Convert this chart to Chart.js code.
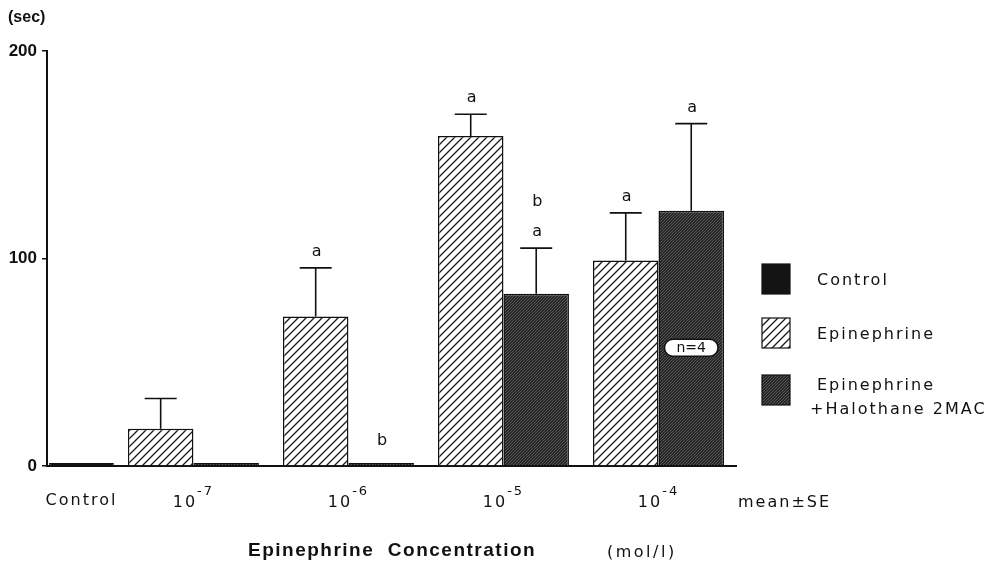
<!DOCTYPE html>
<html><head><meta charset="utf-8">
<script src="https://cdn.jsdelivr.net/npm/chart.js@4"></script>
<style>html,body{margin:0;padding:0;background:#fff;overflow:hidden}canvas{display:block}</style>
</head><body>
<canvas id="c" width="993" height="571"></canvas>
<script>
// ---- data ----
const controlCategory = ['Control'];
const concentrations = ['10⁻⁷', '10⁻⁶', '10⁻⁵', '10⁻⁴'];
const controlMean = [1.5];
const controlSE = [0];
const epinephrineMean = [18, 72, 159, 99];
const epinephrineSE = [14.5, 23.5, 10.5, 23];
const halothaneMean = [1.5, 1.5, 83, 123];
const halothaneSE = [0, 0, 22, 42];
const controlSig = [[]];
const epinephrineSig = [[], ['a'], ['a'], ['a']];
const halothaneSig = [[], ['b'], ['a', 'b'], ['a']];
const yTickValues = [0, 100, 200];
const seriesNames = ['Control', 'Epinephrine', 'Epinephrine +Halothane 2MAC'];
const sampleNote = { text: 'n=4', series: 2, index: 3, value: 57 };

// ---- styles ----
const SANS = '"DejaVu Sans", Verdana, sans-serif';
const HELV = '"Liberation Sans", Arial, sans-serif';
function hatch(bg, fg, s, lw) {
  const c = document.createElement('canvas');
  c.width = s; c.height = s;
  const g = c.getContext('2d');
  g.fillStyle = bg; g.fillRect(0, 0, s, s);
  g.strokeStyle = fg; g.lineWidth = lw;
  g.beginPath();
  g.moveTo(-1, s + 1); g.lineTo(s + 1, -1);
  g.moveTo(-1, 1); g.lineTo(1, -1);
  g.moveTo(s - 1, s + 1); g.lineTo(s + 1, s - 1);
  g.stroke();
  return g.createPattern(c, 'repeat');
}
const epiFill = hatch('#ffffff', '#1a1a1a', 8, 1.3);
const haloFill = hatch('#262626', '#6e6e6e', 3, 0.7);
const ctrlFill = '#141414';

// Chart.js >= 4.5 splits a category between bar datasets on different index axes;
// compensate so each concentration pair fills the same share of its category.
const indexAxisShare = typeof Chart.BarController.prototype._getAxisCount === 'function' ? 2 : 1;
const pairPercentage = 0.845 * indexAxisShare;

const SUP = { '⁻': '-', '⁰': '0', '¹': '1', '²': '2', '³': '3', '⁴': '4', '⁵': '5', '⁶': '6', '⁷': '7', '⁸': '8', '⁹': '9' };
function splitPower(label) {
  let base = '', exp = '';
  for (const ch of label) { if (SUP[ch] !== undefined) exp += SUP[ch]; else base += ch; }
  return [base, exp];
}

const extras = {
  id: 'extras',
  beforeDraw(chart) { chart.ctx.letterSpacing = '2px'; },
  beforeDatasetsDraw(chart) { chart.ctx.letterSpacing = '0px'; },
  afterDatasetsDraw(chart) {
    const ctx = chart.ctx, ys = chart.scales.y;
    ctx.save();
    ctx.letterSpacing = '0px';
    chart.data.datasets.forEach((ds, di) => {
      const meta = chart.getDatasetMeta(di);
      meta.data.forEach((bar, i) => {
        const se = ds.se[i];
        const yTop = ys.getPixelForValue(ds.data[i] + se);
        if (se > 0) {
          ctx.strokeStyle = '#111';
          ctx.lineWidth = 1.6;
          ctx.beginPath();
          ctx.moveTo(bar.x, bar.y);
          ctx.lineTo(bar.x, yTop);
          ctx.moveTo(bar.x - 16, yTop);
          ctx.lineTo(bar.x + 16, yTop);
          ctx.stroke();
        }
        const sig = ds.sig[i] || [];
        ctx.fillStyle = '#111';
        ctx.font = '16px ' + SANS;
        ctx.textAlign = 'center';
        ctx.textBaseline = 'alphabetic';
        let base = yTop - (se > 0 ? 12 : 18);
        sig.forEach(letter => { ctx.fillText(letter, bar.x + 1, base); base -= 30; });
      });
    });
    // n=4 note
    const nb = chart.getDatasetMeta(sampleNote.series).data[sampleNote.index];
    const ny = ys.getPixelForValue(sampleNote.value);
    ctx.font = '14px ' + SANS;
    const w = ctx.measureText(sampleNote.text).width + 24, h = 17;
    ctx.beginPath();
    ctx.roundRect(nb.x - w / 2, ny - h / 2, w, h, h / 2);
    ctx.fillStyle = '#fff'; ctx.fill();
    ctx.strokeStyle = '#111'; ctx.lineWidth = 1.5; ctx.stroke();
    ctx.fillStyle = '#111'; ctx.textAlign = 'center'; ctx.textBaseline = 'middle';
    ctx.fillText(sampleNote.text, nb.x, ny + 1);
    ctx.restore();
  },
  afterDraw(chart) {
    const ctx = chart.ctx;
    ctx.save();
    ctx.fillStyle = '#111';
    ctx.textBaseline = 'alphabetic';
    ctx.textAlign = 'left';
    // concentration tick labels with real superscript exponents
    const xs = chart.scales.x;
    ctx.letterSpacing = '2px';
    xs.ticks.forEach((t, i) => {
      const [b, e] = splitPower(xs.getLabelForValue(t.value));
      ctx.font = '16px ' + SANS;
      const wb = ctx.measureText(b).width;
      ctx.font = '13px ' + SANS;
      const we = ctx.measureText(e).width;
      const start = xs.getPixelForTick(i) - (wb + we) / 2;
      ctx.font = '16px ' + SANS;
      ctx.fillText(b, start, 507);
      ctx.font = '13px ' + SANS;
      ctx.fillText(e, start + wb, 495);
    });
    // y unit
    ctx.letterSpacing = '0px';
    ctx.font = 'bold 16px ' + HELV;
    ctx.fillText('(sec)', 8, 22);
    // x title
    ctx.letterSpacing = '1.5px';
    ctx.font = 'bold 19px ' + HELV;
    ctx.fillText('Epinephrine  Concentration', 248, 556);
    ctx.letterSpacing = '2.5px';
    ctx.font = '16px ' + SANS;
    ctx.fillText('(mol/l)', 607, 557);
    ctx.letterSpacing = '2px';
    ctx.fillText('mean±SE', 738, 507);
    // legend
    const tops = [264, 318, 375];
    const textY = [[285], [339], [390, 414]];
    const textX = [[817], [817], [817, 810]];
    chart.data.datasets.forEach((ds, i) => {
      ctx.fillStyle = ds.backgroundColor;
      ctx.fillRect(762, tops[i], 28, 30);
      ctx.strokeStyle = '#111'; ctx.lineWidth = 1.2;
      ctx.strokeRect(762, tops[i], 28, 30);
      ctx.fillStyle = '#111';
      ds.label.split(/ (?=\+)/).forEach((line, k) => {
        ctx.fillText(line, textX[i][k], textY[i][k]);
      });
    });
    ctx.restore();
  }
};

const xTickFont = { family: SANS, size: 16 };
const axisBorder = { display: true, color: '#111', width: 2 };
const fixX = s => { s.height = 105; s.paddingLeft = 0; s.paddingRight = 0; };

new Chart(document.getElementById('c'), {
  type: 'bar',
  data: {
    datasets: [
      { label: seriesNames[0], data: controlMean, se: controlSE, sig: controlSig, xAxisID: 'xc',
        grouped: false,
        backgroundColor: ctrlFill, borderColor: '#111', borderWidth: 1.5,
        categoryPercentage: 0.94, barPercentage: 1 },
      { label: seriesNames[1], data: epinephrineMean, se: epinephrineSE, sig: epinephrineSig, xAxisID: 'x',
        backgroundColor: epiFill, borderColor: '#111', borderWidth: 1.5,
        categoryPercentage: pairPercentage, barPercentage: 1 },
      { label: seriesNames[2], data: halothaneMean, se: halothaneSE, sig: halothaneSig, xAxisID: 'x',
        backgroundColor: haloFill, borderColor: '#111', borderWidth: 1.5,
        categoryPercentage: pairPercentage, barPercentage: 1 }
    ]
  },
  options: {
    responsive: false,
    animation: false,
    devicePixelRatio: 1,
    layout: { padding: { top: 51, right: 257, bottom: 0, left: 0 } },
    plugins: { legend: { display: false }, tooltip: { enabled: false } },
    scales: {
      xc: {
        type: 'category', labels: controlCategory, position: 'bottom',
        stack: 'xrow', stackWeight: 1, weight: 0, offset: true,
        grid: { display: false, drawTicks: false }, border: axisBorder,
        ticks: { font: xTickFont, color: '#111', padding: 25, maxRotation: 0 },
        afterFit: fixX
      },
      x: {
        type: 'category', labels: concentrations, position: 'bottom',
        stack: 'xrow', stackWeight: 9, weight: 1, offset: true,
        grid: { display: false, drawTicks: false }, border: axisBorder,
        ticks: { display: false, font: xTickFont, color: '#111', padding: 25, maxRotation: 0 },
        afterFit: fixX
      },
      y: {
        position: 'left', min: 0, max: 200,
        afterBuildTicks: s => { s.ticks = yTickValues.map(v => ({ value: v })); },
        grid: { display: true, drawOnChartArea: false, drawTicks: true, tickLength: 5, color: '#111', lineWidth: 1.5 },
        border: axisBorder,
        ticks: { z: 1, font: { family: HELV, size: 17, weight: 'bold' }, color: '#111', padding: 5 },
        afterFit: s => { s.width = 47; s.paddingTop = 0; s.paddingBottom = 0; }
      }
    }
  },
  plugins: [extras]
});
</script>
</body></html>
